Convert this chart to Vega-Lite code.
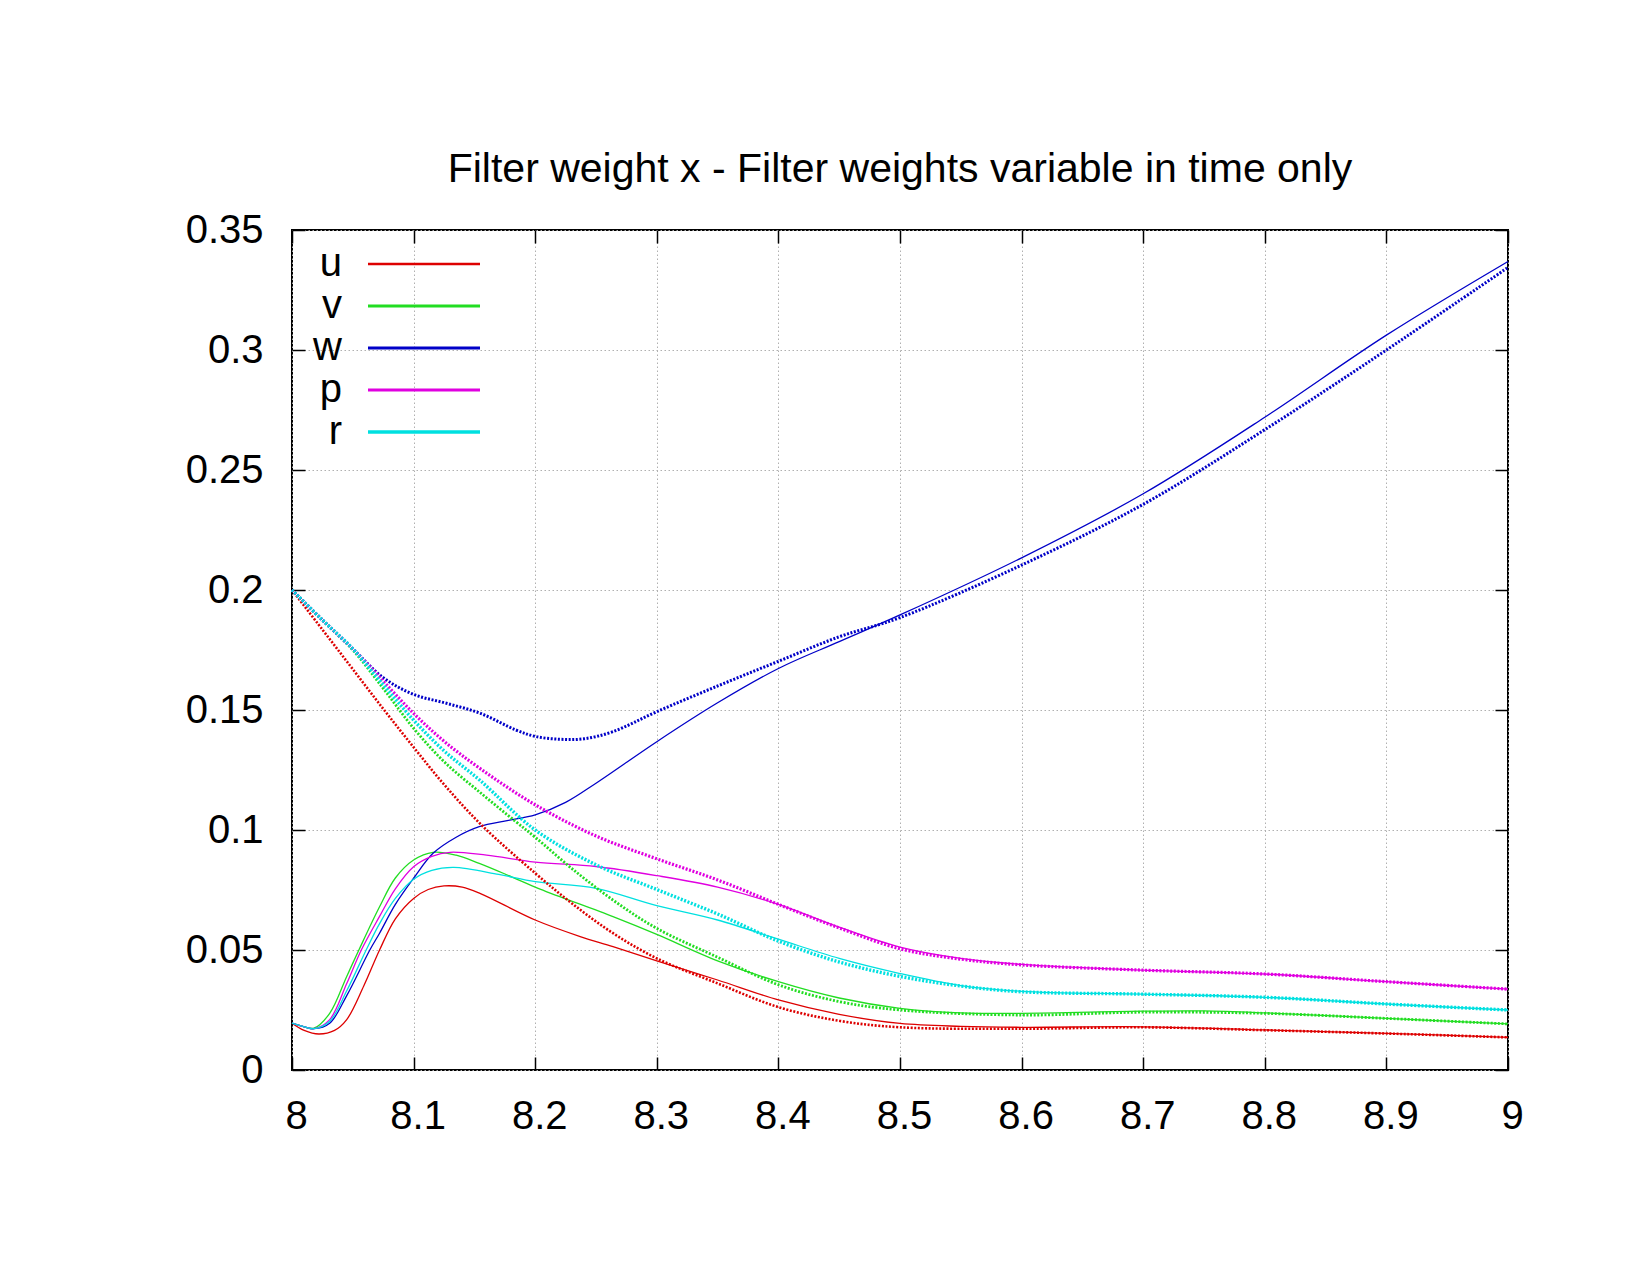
{
  "$schema": "https://vega.github.io/schema/vega-lite/v6.json",
  "width": 1216,
  "height": 840,
  "autosize": {"type": "none"},
  "padding": {"left": 292, "top": 230, "right": 142, "bottom": 205},
  "background": "white",
  "title": {"text": "Filter weight x - Filter weights variable in time only", "fontSize": 41, "font": "Liberation Sans", "fontWeight": "normal", "offset": 19, "anchor": "middle", "color": "black"},
  "datasets": {
    "d": [
      {"x": 8.0, "y": 0.0195, "s": "u", "t": "solid"},
      {"x": 8.01, "y": 0.0165, "s": "u", "t": "solid"},
      {"x": 8.022, "y": 0.015, "s": "u", "t": "solid"},
      {"x": 8.035, "y": 0.0165, "s": "u", "t": "solid"},
      {"x": 8.045, "y": 0.021, "s": "u", "t": "solid"},
      {"x": 8.059, "y": 0.035, "s": "u", "t": "solid"},
      {"x": 8.072, "y": 0.05, "s": "u", "t": "solid"},
      {"x": 8.085, "y": 0.063, "s": "u", "t": "solid"},
      {"x": 8.1, "y": 0.0715, "s": "u", "t": "solid"},
      {"x": 8.112, "y": 0.0752, "s": "u", "t": "solid"},
      {"x": 8.125, "y": 0.0767, "s": "u", "t": "solid"},
      {"x": 8.14, "y": 0.0762, "s": "u", "t": "solid"},
      {"x": 8.155, "y": 0.0735, "s": "u", "t": "solid"},
      {"x": 8.2, "y": 0.0625, "s": "u", "t": "solid"},
      {"x": 8.237, "y": 0.0556, "s": "u", "t": "solid"},
      {"x": 8.264, "y": 0.0514, "s": "u", "t": "solid"},
      {"x": 8.3, "y": 0.0455, "s": "u", "t": "solid"},
      {"x": 8.35, "y": 0.0375, "s": "u", "t": "solid"},
      {"x": 8.4, "y": 0.0292, "s": "u", "t": "solid"},
      {"x": 8.45, "y": 0.0232, "s": "u", "t": "solid"},
      {"x": 8.5, "y": 0.0194, "s": "u", "t": "solid"},
      {"x": 8.55, "y": 0.0182, "s": "u", "t": "solid"},
      {"x": 8.6, "y": 0.0178, "s": "u", "t": "solid"},
      {"x": 8.7, "y": 0.018, "s": "u", "t": "solid"},
      {"x": 8.8, "y": 0.0167, "s": "u", "t": "solid"},
      {"x": 8.9, "y": 0.0153, "s": "u", "t": "solid"},
      {"x": 9.0, "y": 0.0136, "s": "u", "t": "solid"},

      {"x": 8.0, "y": 0.0195, "s": "v", "t": "solid"},
      {"x": 8.01, "y": 0.018, "s": "v", "t": "solid"},
      {"x": 8.018, "y": 0.0174, "s": "v", "t": "solid"},
      {"x": 8.031, "y": 0.0236, "s": "v", "t": "solid"},
      {"x": 8.045, "y": 0.039, "s": "v", "t": "solid"},
      {"x": 8.055, "y": 0.05, "s": "v", "t": "solid"},
      {"x": 8.072, "y": 0.068, "s": "v", "t": "solid"},
      {"x": 8.085, "y": 0.08, "s": "v", "t": "solid"},
      {"x": 8.1, "y": 0.0875, "s": "v", "t": "solid"},
      {"x": 8.116, "y": 0.0907, "s": "v", "t": "solid"},
      {"x": 8.135, "y": 0.0895, "s": "v", "t": "solid"},
      {"x": 8.154, "y": 0.0861, "s": "v", "t": "solid"},
      {"x": 8.181, "y": 0.0804, "s": "v", "t": "solid"},
      {"x": 8.204, "y": 0.0754, "s": "v", "t": "solid"},
      {"x": 8.264, "y": 0.0639, "s": "v", "t": "solid"},
      {"x": 8.3, "y": 0.0565, "s": "v", "t": "solid"},
      {"x": 8.35, "y": 0.0455, "s": "v", "t": "solid"},
      {"x": 8.4, "y": 0.0368, "s": "v", "t": "solid"},
      {"x": 8.45, "y": 0.03, "s": "v", "t": "solid"},
      {"x": 8.5, "y": 0.0257, "s": "v", "t": "solid"},
      {"x": 8.55, "y": 0.0238, "s": "v", "t": "solid"},
      {"x": 8.6, "y": 0.0236, "s": "v", "t": "solid"},
      {"x": 8.7, "y": 0.0245, "s": "v", "t": "solid"},
      {"x": 8.75, "y": 0.0246, "s": "v", "t": "solid"},
      {"x": 8.8, "y": 0.0238, "s": "v", "t": "solid"},
      {"x": 8.9, "y": 0.0215, "s": "v", "t": "solid"},
      {"x": 9.0, "y": 0.0192, "s": "v", "t": "solid"},

      {"x": 8.0, "y": 0.0195, "s": "w", "t": "solid"},
      {"x": 8.01, "y": 0.018, "s": "w", "t": "solid"},
      {"x": 8.018, "y": 0.0172, "s": "w", "t": "solid"},
      {"x": 8.031, "y": 0.0195, "s": "w", "t": "solid"},
      {"x": 8.045, "y": 0.031, "s": "w", "t": "solid"},
      {"x": 8.064, "y": 0.05, "s": "w", "t": "solid"},
      {"x": 8.072, "y": 0.057, "s": "w", "t": "solid"},
      {"x": 8.085, "y": 0.069, "s": "w", "t": "solid"},
      {"x": 8.1, "y": 0.0799, "s": "w", "t": "solid"},
      {"x": 8.116, "y": 0.0903, "s": "w", "t": "solid"},
      {"x": 8.135, "y": 0.097, "s": "w", "t": "solid"},
      {"x": 8.154, "y": 0.1014, "s": "w", "t": "solid"},
      {"x": 8.178, "y": 0.104, "s": "w", "t": "solid"},
      {"x": 8.2, "y": 0.1063, "s": "w", "t": "solid"},
      {"x": 8.225, "y": 0.1115, "s": "w", "t": "solid"},
      {"x": 8.25, "y": 0.1195, "s": "w", "t": "solid"},
      {"x": 8.3, "y": 0.1368, "s": "w", "t": "solid"},
      {"x": 8.35, "y": 0.153, "s": "w", "t": "solid"},
      {"x": 8.4, "y": 0.1673, "s": "w", "t": "solid"},
      {"x": 8.45, "y": 0.1785, "s": "w", "t": "solid"},
      {"x": 8.5, "y": 0.1896, "s": "w", "t": "solid"},
      {"x": 8.6, "y": 0.2134, "s": "w", "t": "solid"},
      {"x": 8.7, "y": 0.2401, "s": "w", "t": "solid"},
      {"x": 8.8, "y": 0.272, "s": "w", "t": "solid"},
      {"x": 8.9, "y": 0.3062, "s": "w", "t": "solid"},
      {"x": 9.0, "y": 0.3369, "s": "w", "t": "solid"},

      {"x": 8.0, "y": 0.0195, "s": "p", "t": "solid"},
      {"x": 8.01, "y": 0.018, "s": "p", "t": "solid"},
      {"x": 8.018, "y": 0.0172, "s": "p", "t": "solid"},
      {"x": 8.031, "y": 0.021, "s": "p", "t": "solid"},
      {"x": 8.045, "y": 0.036, "s": "p", "t": "solid"},
      {"x": 8.057, "y": 0.05, "s": "p", "t": "solid"},
      {"x": 8.072, "y": 0.064, "s": "p", "t": "solid"},
      {"x": 8.085, "y": 0.0755, "s": "p", "t": "solid"},
      {"x": 8.1, "y": 0.0847, "s": "p", "t": "solid"},
      {"x": 8.115, "y": 0.089, "s": "p", "t": "solid"},
      {"x": 8.13, "y": 0.0907, "s": "p", "t": "solid"},
      {"x": 8.16, "y": 0.0895, "s": "p", "t": "solid"},
      {"x": 8.2, "y": 0.0866, "s": "p", "t": "solid"},
      {"x": 8.25, "y": 0.0848, "s": "p", "t": "solid"},
      {"x": 8.3, "y": 0.081, "s": "p", "t": "solid"},
      {"x": 8.35, "y": 0.0762, "s": "p", "t": "solid"},
      {"x": 8.4, "y": 0.069, "s": "p", "t": "solid"},
      {"x": 8.45, "y": 0.0595, "s": "p", "t": "solid"},
      {"x": 8.5, "y": 0.0512, "s": "p", "t": "solid"},
      {"x": 8.55, "y": 0.0465, "s": "p", "t": "solid"},
      {"x": 8.6, "y": 0.044, "s": "p", "t": "solid"},
      {"x": 8.7, "y": 0.0416, "s": "p", "t": "solid"},
      {"x": 8.8, "y": 0.04, "s": "p", "t": "solid"},
      {"x": 8.9, "y": 0.0368, "s": "p", "t": "solid"},
      {"x": 9.0, "y": 0.0337, "s": "p", "t": "solid"},

      {"x": 8.0, "y": 0.0195, "s": "r", "t": "solid"},
      {"x": 8.01, "y": 0.018, "s": "r", "t": "solid"},
      {"x": 8.018, "y": 0.0172, "s": "r", "t": "solid"},
      {"x": 8.031, "y": 0.0203, "s": "r", "t": "solid"},
      {"x": 8.045, "y": 0.033, "s": "r", "t": "solid"},
      {"x": 8.061, "y": 0.05, "s": "r", "t": "solid"},
      {"x": 8.072, "y": 0.061, "s": "r", "t": "solid"},
      {"x": 8.085, "y": 0.0715, "s": "r", "t": "solid"},
      {"x": 8.1, "y": 0.0795, "s": "r", "t": "solid"},
      {"x": 8.115, "y": 0.0832, "s": "r", "t": "solid"},
      {"x": 8.133, "y": 0.0844, "s": "r", "t": "solid"},
      {"x": 8.17, "y": 0.0815, "s": "r", "t": "solid"},
      {"x": 8.2, "y": 0.0785, "s": "r", "t": "solid"},
      {"x": 8.25, "y": 0.0757, "s": "r", "t": "solid"},
      {"x": 8.3, "y": 0.0685, "s": "r", "t": "solid"},
      {"x": 8.35, "y": 0.0625, "s": "r", "t": "solid"},
      {"x": 8.4, "y": 0.0545, "s": "r", "t": "solid"},
      {"x": 8.45, "y": 0.0465, "s": "r", "t": "solid"},
      {"x": 8.5, "y": 0.0402, "s": "r", "t": "solid"},
      {"x": 8.55, "y": 0.0352, "s": "r", "t": "solid"},
      {"x": 8.6, "y": 0.0328, "s": "r", "t": "solid"},
      {"x": 8.7, "y": 0.0316, "s": "r", "t": "solid"},
      {"x": 8.8, "y": 0.0303, "s": "r", "t": "solid"},
      {"x": 8.9, "y": 0.0275, "s": "r", "t": "solid"},
      {"x": 9.0, "y": 0.025, "s": "r", "t": "solid"},

      {"x": 8.0, "y": 0.2, "s": "u", "t": "dotted"},
      {"x": 8.025, "y": 0.1835, "s": "u", "t": "dotted"},
      {"x": 8.05, "y": 0.167, "s": "u", "t": "dotted"},
      {"x": 8.075, "y": 0.1505, "s": "u", "t": "dotted"},
      {"x": 8.1, "y": 0.1345, "s": "u", "t": "dotted"},
      {"x": 8.125, "y": 0.119, "s": "u", "t": "dotted"},
      {"x": 8.155, "y": 0.1025, "s": "u", "t": "dotted"},
      {"x": 8.2, "y": 0.082, "s": "u", "t": "dotted"},
      {"x": 8.23, "y": 0.0695, "s": "u", "t": "dotted"},
      {"x": 8.264, "y": 0.057, "s": "u", "t": "dotted"},
      {"x": 8.3, "y": 0.0465, "s": "u", "t": "dotted"},
      {"x": 8.35, "y": 0.0361, "s": "u", "t": "dotted"},
      {"x": 8.4, "y": 0.0262, "s": "u", "t": "dotted"},
      {"x": 8.45, "y": 0.0205, "s": "u", "t": "dotted"},
      {"x": 8.5, "y": 0.0178, "s": "u", "t": "dotted"},
      {"x": 8.6, "y": 0.0172, "s": "u", "t": "dotted"},
      {"x": 8.7, "y": 0.0178, "s": "u", "t": "dotted"},
      {"x": 8.8, "y": 0.0166, "s": "u", "t": "dotted"},
      {"x": 8.9, "y": 0.0152, "s": "u", "t": "dotted"},
      {"x": 9.0, "y": 0.0136, "s": "u", "t": "dotted"},

      {"x": 8.0, "y": 0.2, "s": "v", "t": "dotted"},
      {"x": 8.025, "y": 0.1875, "s": "v", "t": "dotted"},
      {"x": 8.05, "y": 0.175, "s": "v", "t": "dotted"},
      {"x": 8.075, "y": 0.159, "s": "v", "t": "dotted"},
      {"x": 8.1, "y": 0.1424, "s": "v", "t": "dotted"},
      {"x": 8.125, "y": 0.1285, "s": "v", "t": "dotted"},
      {"x": 8.155, "y": 0.1155, "s": "v", "t": "dotted"},
      {"x": 8.184, "y": 0.1035, "s": "v", "t": "dotted"},
      {"x": 8.2, "y": 0.097, "s": "v", "t": "dotted"},
      {"x": 8.23, "y": 0.084, "s": "v", "t": "dotted"},
      {"x": 8.264, "y": 0.0708, "s": "v", "t": "dotted"},
      {"x": 8.3, "y": 0.059, "s": "v", "t": "dotted"},
      {"x": 8.35, "y": 0.047, "s": "v", "t": "dotted"},
      {"x": 8.4, "y": 0.0355, "s": "v", "t": "dotted"},
      {"x": 8.45, "y": 0.0285, "s": "v", "t": "dotted"},
      {"x": 8.5, "y": 0.025, "s": "v", "t": "dotted"},
      {"x": 8.6, "y": 0.0229, "s": "v", "t": "dotted"},
      {"x": 8.7, "y": 0.0241, "s": "v", "t": "dotted"},
      {"x": 8.8, "y": 0.0236, "s": "v", "t": "dotted"},
      {"x": 8.9, "y": 0.0215, "s": "v", "t": "dotted"},
      {"x": 9.0, "y": 0.0192, "s": "v", "t": "dotted"},

      {"x": 8.0, "y": 0.2, "s": "w", "t": "dotted"},
      {"x": 8.025, "y": 0.1875, "s": "w", "t": "dotted"},
      {"x": 8.05, "y": 0.1755, "s": "w", "t": "dotted"},
      {"x": 8.075, "y": 0.1635, "s": "w", "t": "dotted"},
      {"x": 8.1, "y": 0.1565, "s": "w", "t": "dotted"},
      {"x": 8.127, "y": 0.1528, "s": "w", "t": "dotted"},
      {"x": 8.155, "y": 0.1486, "s": "w", "t": "dotted"},
      {"x": 8.184, "y": 0.1417, "s": "w", "t": "dotted"},
      {"x": 8.2, "y": 0.139, "s": "w", "t": "dotted"},
      {"x": 8.22, "y": 0.1378, "s": "w", "t": "dotted"},
      {"x": 8.24, "y": 0.138, "s": "w", "t": "dotted"},
      {"x": 8.264, "y": 0.141, "s": "w", "t": "dotted"},
      {"x": 8.3, "y": 0.1493, "s": "w", "t": "dotted"},
      {"x": 8.35, "y": 0.16, "s": "w", "t": "dotted"},
      {"x": 8.4, "y": 0.1703, "s": "w", "t": "dotted"},
      {"x": 8.45, "y": 0.1805, "s": "w", "t": "dotted"},
      {"x": 8.5, "y": 0.1885, "s": "w", "t": "dotted"},
      {"x": 8.6, "y": 0.2104, "s": "w", "t": "dotted"},
      {"x": 8.7, "y": 0.2357, "s": "w", "t": "dotted"},
      {"x": 8.8, "y": 0.2668, "s": "w", "t": "dotted"},
      {"x": 8.9, "y": 0.3, "s": "w", "t": "dotted"},
      {"x": 9.0, "y": 0.3344, "s": "w", "t": "dotted"},

      {"x": 8.0, "y": 0.2, "s": "p", "t": "dotted"},
      {"x": 8.025, "y": 0.1875, "s": "p", "t": "dotted"},
      {"x": 8.05, "y": 0.1755, "s": "p", "t": "dotted"},
      {"x": 8.075, "y": 0.162, "s": "p", "t": "dotted"},
      {"x": 8.1, "y": 0.1486, "s": "p", "t": "dotted"},
      {"x": 8.125, "y": 0.137, "s": "p", "t": "dotted"},
      {"x": 8.155, "y": 0.1255, "s": "p", "t": "dotted"},
      {"x": 8.2, "y": 0.1105, "s": "p", "t": "dotted"},
      {"x": 8.25, "y": 0.0975, "s": "p", "t": "dotted"},
      {"x": 8.3, "y": 0.088, "s": "p", "t": "dotted"},
      {"x": 8.35, "y": 0.0792, "s": "p", "t": "dotted"},
      {"x": 8.4, "y": 0.069, "s": "p", "t": "dotted"},
      {"x": 8.45, "y": 0.0592, "s": "p", "t": "dotted"},
      {"x": 8.5, "y": 0.0505, "s": "p", "t": "dotted"},
      {"x": 8.55, "y": 0.0462, "s": "p", "t": "dotted"},
      {"x": 8.6, "y": 0.0438, "s": "p", "t": "dotted"},
      {"x": 8.7, "y": 0.0416, "s": "p", "t": "dotted"},
      {"x": 8.8, "y": 0.04, "s": "p", "t": "dotted"},
      {"x": 8.9, "y": 0.0368, "s": "p", "t": "dotted"},
      {"x": 9.0, "y": 0.0337, "s": "p", "t": "dotted"},

      {"x": 8.0, "y": 0.2, "s": "r", "t": "dotted"},
      {"x": 8.025, "y": 0.1875, "s": "r", "t": "dotted"},
      {"x": 8.05, "y": 0.1755, "s": "r", "t": "dotted"},
      {"x": 8.075, "y": 0.1605, "s": "r", "t": "dotted"},
      {"x": 8.1, "y": 0.1458, "s": "r", "t": "dotted"},
      {"x": 8.125, "y": 0.133, "s": "r", "t": "dotted"},
      {"x": 8.155, "y": 0.1205, "s": "r", "t": "dotted"},
      {"x": 8.2, "y": 0.1, "s": "r", "t": "dotted"},
      {"x": 8.25, "y": 0.0855, "s": "r", "t": "dotted"},
      {"x": 8.3, "y": 0.0752, "s": "r", "t": "dotted"},
      {"x": 8.35, "y": 0.065, "s": "r", "t": "dotted"},
      {"x": 8.4, "y": 0.0537, "s": "r", "t": "dotted"},
      {"x": 8.45, "y": 0.045, "s": "r", "t": "dotted"},
      {"x": 8.5, "y": 0.039, "s": "r", "t": "dotted"},
      {"x": 8.55, "y": 0.035, "s": "r", "t": "dotted"},
      {"x": 8.6, "y": 0.0326, "s": "r", "t": "dotted"},
      {"x": 8.7, "y": 0.0316, "s": "r", "t": "dotted"},
      {"x": 8.8, "y": 0.0303, "s": "r", "t": "dotted"},
      {"x": 8.9, "y": 0.0275, "s": "r", "t": "dotted"},
      {"x": 9.0, "y": 0.025, "s": "r", "t": "dotted"}
    ]
  },
  "data": {"name": "d"},
  "layer": [
    {
      "transform": [{"filter": "datum.t == 'solid'"}],
      "mark": {"type": "line", "strokeWidth": 1.3, "interpolate": "catmull-rom"},
      "encoding": {
        "x": {"field": "x", "type": "quantitative", "scale": {"domain": [8, 9], "nice": false, "zero": false},
          "axis": {"orient": "bottom", "values": [8, 8.1, 8.2, 8.3, 8.4, 8.5, 8.6, 8.7, 8.8, 8.9, 9], "format": "~g", "title": null,
            "grid": true, "gridDash": [1.5, 2.5], "gridColor": "#b0b0b0", "gridWidth": 1,
            "domain": false, "ticks": true, "tickSize": -13, "tickColor": "black", "tickWidth": 1.5,
            "labelFlush": false, "labelOffset": 4, "labelBound": false,
            "labelFontSize": 40, "labelFont": "Liberation Sans", "labelColor": "black", "labelPadding": 39}},
        "y": {"field": "y", "type": "quantitative", "scale": {"domain": [0, 0.35], "nice": false, "zero": false},
          "axis": {"orient": "left", "values": [0, 0.05, 0.1, 0.15, 0.2, 0.25, 0.3, 0.35], "format": "~g", "title": null,
            "grid": true, "gridDash": [1.5, 2.5], "gridColor": "#b0b0b0", "gridWidth": 1,
            "domain": false, "ticks": true, "tickSize": -13, "tickColor": "black", "tickWidth": 1.5,
            "labelFlush": false, "labelBound": false,
            "labelFontSize": 40, "labelFont": "Liberation Sans", "labelColor": "black", "labelPadding": 42}},
        "color": {"field": "s", "type": "nominal",
          "scale": {"domain": ["u", "v", "w", "p", "r"], "range": ["#dd0000", "#22dd22", "#0000c8", "#e000e0", "#00e0e0"]},
          "legend": {"orient": "none", "legendX": 112, "legendY": 14, "title": null, "padding": 0,
            "symbolType": "M-4,0H4", "symbolSize": 784, "symbolStrokeWidth": 1.5,
            "labelAlign": "right", "labelOffset": -102, "labelFontSize": 40, "labelFont": "Liberation Sans", "labelColor": "black",
            "rowPadding": 2}}
      }
    },
    {
      "transform": [{"filter": "datum.t == 'dotted'"}],
      "mark": {"type": "line", "strokeDash": [2, 1.6], "interpolate": "catmull-rom"},
      "encoding": {
        "x": {"field": "x", "type": "quantitative",
          "axis": {"orient": "top", "values": [8, 8.1, 8.2, 8.3, 8.4, 8.5, 8.6, 8.7, 8.8, 8.9, 9], "labels": false, "title": null, "grid": false,
            "domain": false, "ticks": true, "tickSize": -13, "tickColor": "black", "tickWidth": 1.5}},
        "y": {"field": "y", "type": "quantitative",
          "axis": {"orient": "right", "values": [0, 0.05, 0.1, 0.15, 0.2, 0.25, 0.3, 0.35], "labels": false, "title": null, "grid": false,
            "domain": false, "ticks": true, "tickSize": -13, "tickColor": "black", "tickWidth": 1.5}},
        "color": {"field": "s", "type": "nominal"},
        "strokeWidth": {"field": "s", "type": "nominal", "scale": {"domain": ["u", "v", "w", "p", "r"], "range": [2.6, 3.4, 3.6, 5, 3.6]}, "legend": null}
      }
    }
  ],
  "resolve": {"axis": {"x": "independent", "y": "independent"}},
  "config": {
    "view": {"stroke": "black", "strokeWidth": 2}
  }
}
